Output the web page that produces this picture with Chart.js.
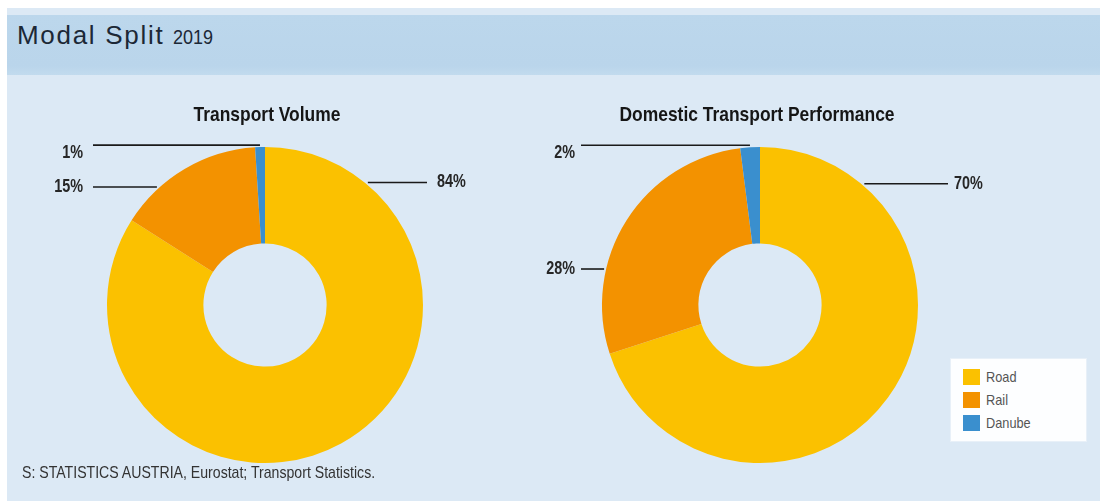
<!DOCTYPE html>
<html>
<head>
<meta charset="utf-8">
<script src="https://cdn.jsdelivr.net/npm/chart.js@4"></script>
<style>
  html, body { margin: 0; padding: 0; background: #fff; }
  #page { position: relative; width: 1100px; height: 501px; overflow: hidden; }
  #panel { position: absolute; left: 7px; top: 8px; width: 1093px; height: 493px; background: #dce9f5; }
  #band { position: absolute; left: 7px; top: 15px; width: 1093px; height: 60px;
          background: linear-gradient(#bcd7ec 0%, #bad5eb 85%, #c2dbee 100%); }
  #heading { position: absolute; left: 17px; top: 20px; font-family: "Liberation Sans", Arial, sans-serif;
             font-size: 26px; letter-spacing: 1.7px; color: #1c2836; white-space: nowrap; }
  #heading span { display: inline-block; font-size: 20px; letter-spacing: 0; transform: scaleX(0.9);
                  transform-origin: left center; }
  canvas { position: absolute; top: 0; }
  .title { position: absolute; top: 102px; transform: translateX(-50%) scaleX(0.83); white-space: nowrap;
           font-family: "Liberation Sans", Arial, sans-serif; font-weight: bold;
           font-size: 21px; color: #161616; }
  #legend { position: absolute; left: 950px; top: 358px; width: 137px; height: 84px; background: #fdfeff;
            border: 1px solid #e8f0f8; box-sizing: border-box; }
  .item { position: absolute; left: 12px; font-family: "Liberation Sans", Arial, sans-serif; font-size: 15px;
          color: #555; line-height: 16px; white-space: nowrap; }
  .item i { display: inline-block; width: 17px; height: 16px; vertical-align: top; margin-right: 6px; }
  .item b { display: inline-block; font-weight: normal; transform: scaleX(0.85); transform-origin: left center; }
  #source { position: absolute; left: 22px; top: 463px; font-family: "Liberation Sans", Arial, sans-serif;
            font-size: 17px; color: #333; white-space: nowrap; transform: scaleX(0.83); transform-origin: left top; }
</style>
</head>
<body>
<div id="page">
  <div id="panel"></div>
  <div id="band"></div>
  <div id="heading">Modal Split <span>2019</span></div>
  <canvas id="volume" width="550" height="501" style="left:0"></canvas>
  <canvas id="performance" width="600" height="501" style="left:500px"></canvas>
  <div class="title" style="left:267px">Transport Volume</div>
  <div class="title" style="left:757px">Domestic Transport Performance</div>
  <div id="legend"></div>
  <div id="source">S: STATISTICS AUSTRIA, Eurostat; Transport Statistics.</div>
</div>
<script>
// data
const categories = ["Road", "Rail", "Danube"];
const transportVolume = [84, 15, 1];
const transportPerformance = [70, 28, 2];
const colors = ["#fbc100", "#f39200", "#3a8fce"];

// leader lines: angle in degrees clockwise from top (null = middle of slice)
const volumeLeaders = { angles: [40, 317.5, null], dy: [0, 0, 8], reachLeft: 172, reachRight: 162, gap: 10 };
const performanceLeaders = { angles: [40.7, 283, null], dy: [0, 0, 8], reachLeft: 179, reachRight: 188, gap: 6 };

const leaderPlugin = {
    id: "leaders",
    afterDatasetsDraw(chart, args, opts) {
        const ctx = chart.ctx;
        const meta = chart.getDatasetMeta(0);
        const values = chart.data.datasets[0].data;
        ctx.save();
        ctx.strokeStyle = "#1a1a1a";
        ctx.lineWidth = 1.6;
        ctx.fillStyle = "#262626";
        ctx.font = "bold 18px 'Liberation Sans', Arial, sans-serif";
        ctx.textBaseline = "middle";
        meta.data.forEach(function (arc, i) {
            const p = arc.getProps(["x", "y", "startAngle", "endAngle", "outerRadius"], true);
            let a;
            if (opts.angles[i] == null) {
                a = (p.startAngle + p.endAngle) / 2;
            } else {
                a = (opts.angles[i] - 90) * Math.PI / 180;
            }
            const r = p.outerRadius + 2;
            const px = p.x + r * Math.cos(a);
            const py = p.y + r * Math.sin(a);
            const right = Math.cos(a) > 0;
            const endX = right ? p.x + opts.reachRight : p.x - opts.reachLeft;
            ctx.beginPath();
            ctx.moveTo(px, py);
            ctx.lineTo(endX, py);
            ctx.stroke();
            // condensed look: squeeze text horizontally
            ctx.save();
            ctx.translate(right ? endX + opts.gap : endX - opts.gap, py + opts.dy[i]);
            ctx.scale(0.8, 1);
            ctx.textAlign = right ? "left" : "right";
            ctx.fillText(values[i] + "%", 0, 0);
            ctx.restore();
        });
        ctx.restore();
    }
};

function makeDonut(id, values, leaders, padding) {
    new Chart(document.getElementById(id).getContext("2d"), {
        type: "doughnut",
        data: {
            labels: categories,
            datasets: [{
                data: values,
                backgroundColor: colors,
                borderWidth: 0,
                hoverOffset: 0,
                offset: 0
            }]
        },
        options: {
            responsive: false,
            animation: false,
            cutout: "39%",
            layout: { padding: padding },
            plugins: {
                legend: { display: false },
                tooltip: { enabled: false },
                leaders: leaders
            }
        },
        plugins: [leaderPlugin]
    });
}

makeDonut("volume", transportVolume, volumeLeaders, { left: 107, right: 127, top: 147, bottom: 38 });
makeDonut("performance", transportPerformance, performanceLeaders, { left: 102, right: 182, top: 147, bottom: 38 });

// legend
const legend = document.getElementById("legend");
categories.forEach(function (name, i) {
    const row = document.createElement("div");
    row.className = "item";
    row.style.top = (10 + i * 23) + "px";
    row.innerHTML = '<i style="background:' + colors[i] + '"></i><b>' + name + '</b>';
    legend.appendChild(row);
});
</script>
</body>
</html>
